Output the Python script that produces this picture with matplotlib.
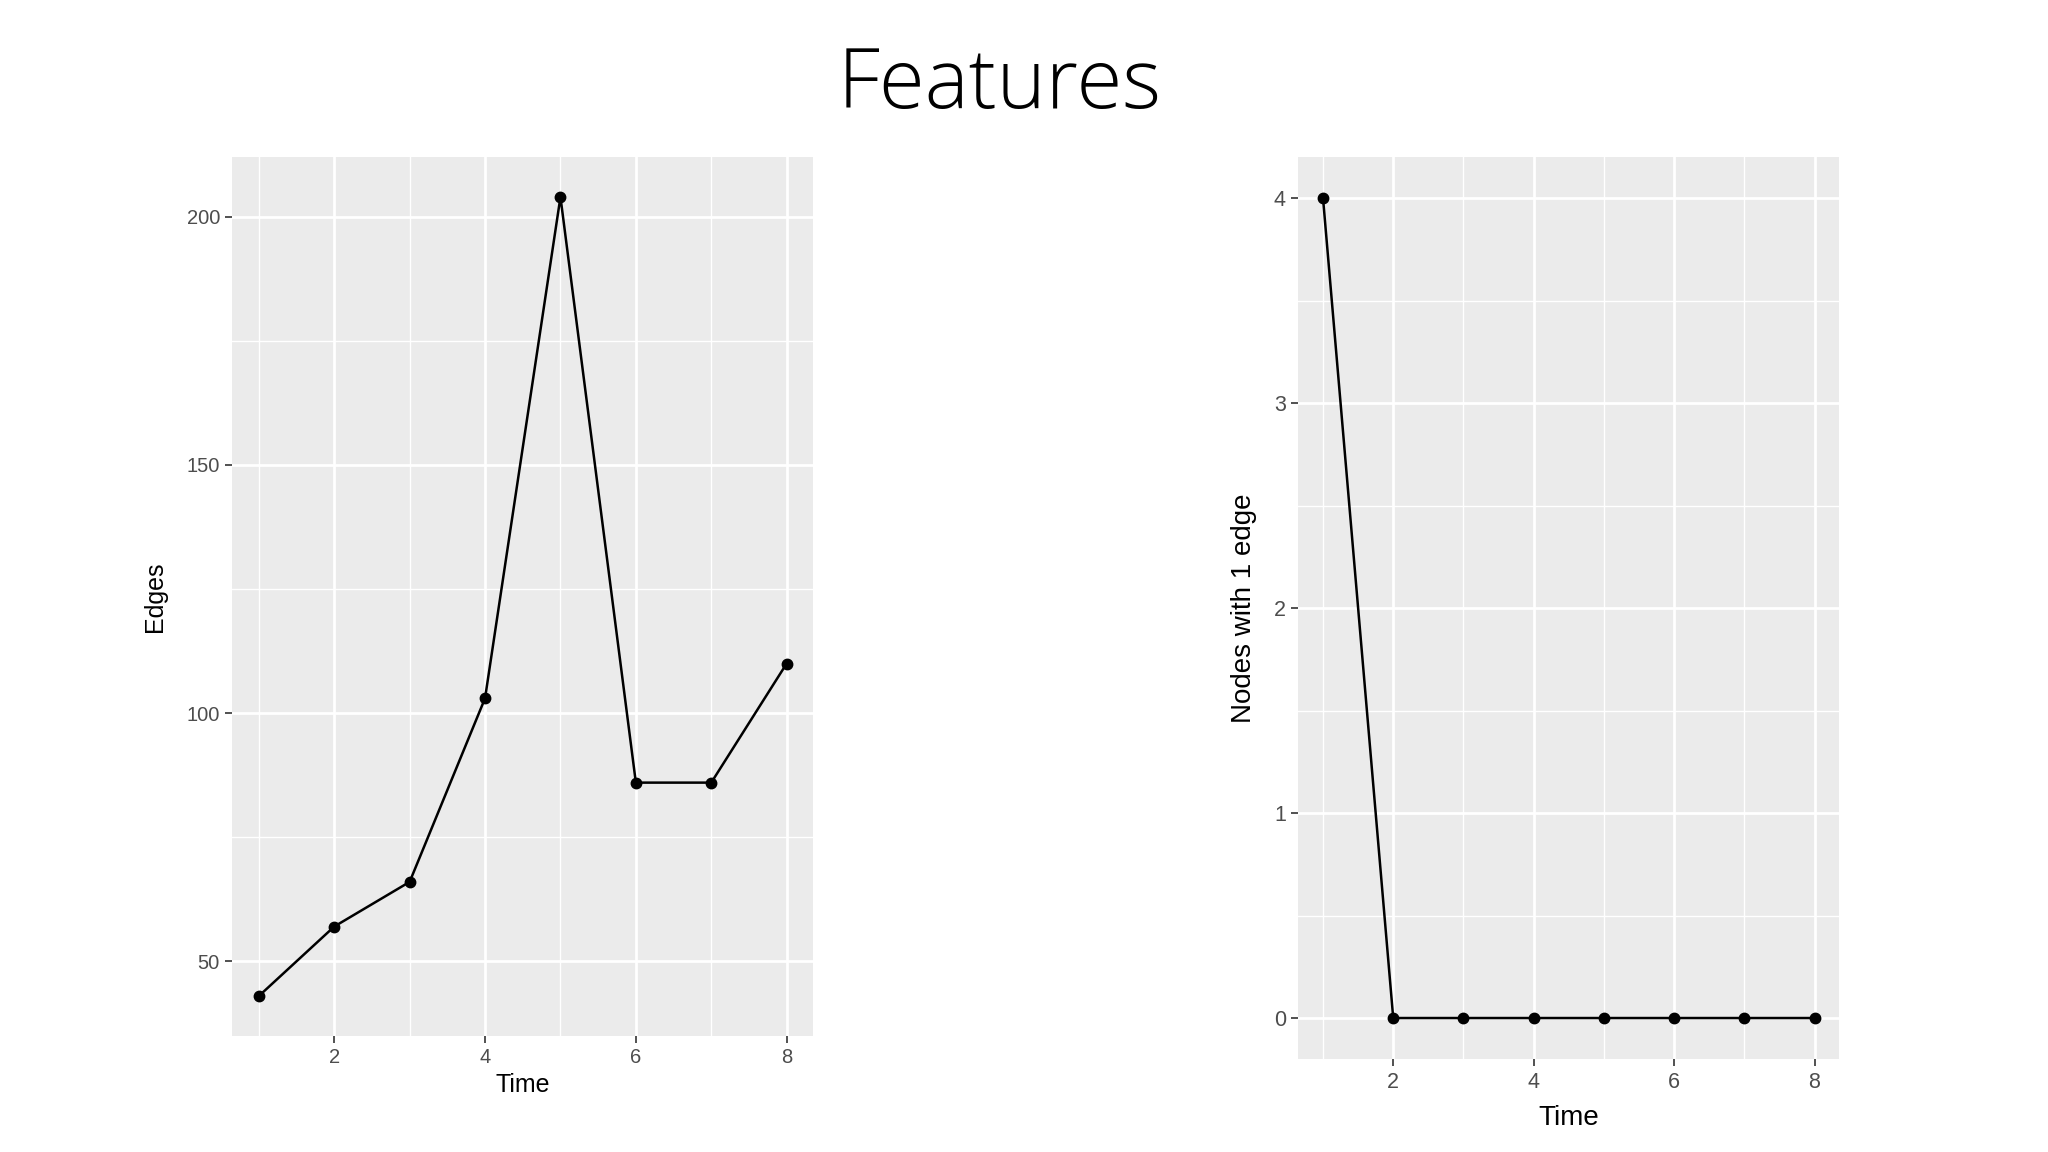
import matplotlib
matplotlib.use("Agg")
import matplotlib.pyplot as plt
from matplotlib.ticker import MultipleLocator

time = [1, 2, 3, 4, 5, 6, 7, 8]
edges = [43, 57, 66, 103, 204, 86, 86, 110]
nodes_one_edge = [4, 0, 0, 0, 0, 0, 0, 0]

left_yticks = [50, 100, 150, 200]
right_yticks = [0, 1, 2, 3, 4]
xticks = [2, 4, 6, 8]

plt.rcParams['font.family'] = ['Liberation Sans', 'DejaVu Sans']

fig = plt.figure(figsize=(20.48, 11.52), dpi=100)
fig.patch.set_facecolor('white')

fig.text(0.488, 0.925, "Features", ha='center', va='center', fontsize=60,
         family=['Open Sans', 'Lato', 'DejaVu Sans'], fontweight='light', color='black')


def style(ax, ymaj, ymin, y, label_size, tick_size, xlabelpad):
    ax.set_facecolor('#EBEBEB')
    for s in ax.spines.values():
        s.set_visible(False)
    ax.set_xticks(xticks)
    ax.set_yticks(ymaj)
    ax.xaxis.set_minor_locator(MultipleLocator(1))
    ax.yaxis.set_minor_locator(MultipleLocator(ymin))
    ax.grid(which='major', color='white', linewidth=2.0)
    ax.grid(which='minor', color='white', linewidth=1.0)
    ax.set_axisbelow(True)
    ax.tick_params(which='major', length=5, width=1.2, color='#333333',
                   labelsize=tick_size, labelcolor='#4D4D4D', pad=4)
    ax.tick_params(which='minor', length=0)
    lo, hi = min(y), max(y)
    pad = 0.05 * (hi - lo)
    ax.set_ylim(lo - pad, hi + pad)
    ax.set_xlim(1 - 0.35, 8 + 0.35)
    ax.set_xlabel("Time", fontsize=label_size, labelpad=xlabelpad)


ax1 = fig.add_axes([0.1135, 0.1007, 0.2835, 0.763])
ax1.plot(time, edges, color='black', linewidth=1.8, marker='o', markersize=7.5)
style(ax1, left_yticks, 25, edges, 18, 14.5, 4)
ax1.set_ylabel("Edges", fontsize=18, labelpad=14)

ax2 = fig.add_axes([0.634, 0.0807, 0.264, 0.783])
ax2.plot(time, nodes_one_edge, color='black', linewidth=1.8, marker='o', markersize=7.5)
style(ax2, right_yticks, 0.5, nodes_one_edge, 20, 15.5, 9)
ax2.set_ylabel("Nodes with 1 edge", fontsize=20, labelpad=12)

fig.savefig("out.png", dpi=100, facecolor='white')
